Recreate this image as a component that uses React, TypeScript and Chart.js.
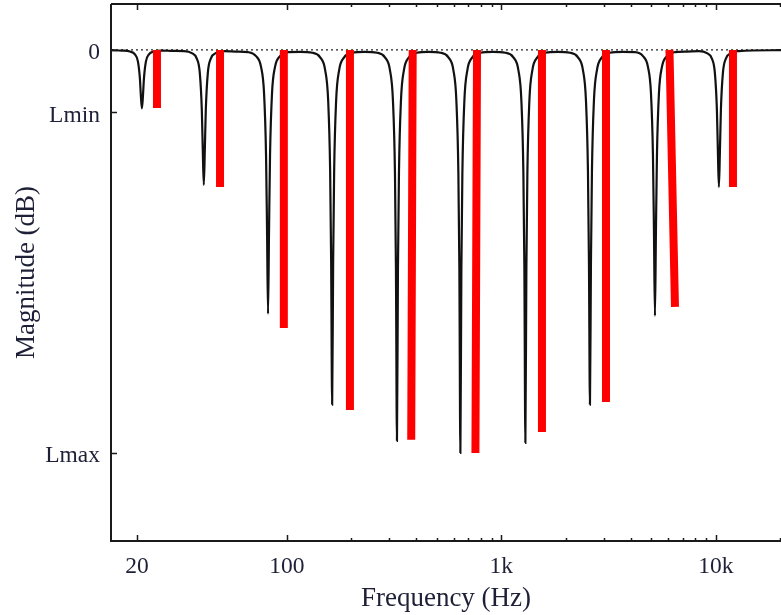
import React, { useEffect, useRef } from "react";
import { Chart, registerables } from "chart.js";

Chart.register(...registerables);

// Black magnitude response curve (frequency in Hz, magnitude in dB)
const curveHz = [
  15.14,
  17.03, 18.55, 19.57, 20.21, 20.65, 20.87, 21.1, 21.33, 21.56, 22.03, 22.75, 24.0, 26.15,
  29.41,
  33.09, 36.05, 38.03, 39.28, 40.13, 40.56, 41.0, 41.44, 41.89, 42.8, 44.2, 46.63, 50.81,
  57.88,
  65.93, 71.84, 75.79, 78.27, 79.97, 80.83, 81.7, 82.58, 83.47, 85.28, 88.07, 92.92, 101.24,
  115.26,
  131.2, 142.97, 150.84, 155.77, 159.14, 160.87, 162.6, 164.35, 166.13, 169.73, 175.28, 184.92, 201.49,
  230.2,
  263.1, 286.6, 302.4, 312.3, 319.1, 322.5, 326, 329.5, 333.1, 340.3, 351.4, 370.8, 404.0,
  458.2,
  519.7, 566.3, 597.4, 616.9, 630.3, 637.1, 644, 650.9, 658.0, 672.3, 694.2, 732.4, 798.0,
  912.9,
  1044.2, 1137.8, 1200.4, 1239.6, 1266.5, 1280.2, 1294, 1308.0, 1322.1, 1350.8, 1394.9, 1471.7, 1603.5,
  1830,
  2088.5, 2275.6, 2400.8, 2479.2, 2533.0, 2560.4, 2588, 2615.9, 2644.2, 2701.5, 2789.8, 2943.3, 3207.0,
  3668.5,
  4196.3, 4572.3, 4823.8, 4981.4, 5089.6, 5144.5, 5200, 5256.1, 5312.8, 5428.1, 5605.5, 5914.0, 6443.7,
  7329.1,
  8336.1, 9082.9, 9582.6, 9895.8, 10110.6, 10219.8, 10330, 10441.5, 10554.2, 10783.2, 11135.6, 11748.3, 12800.7,
  20120,
];
const curveDb = [
  -0.01,
  -0.03, -0.08, -0.22, -0.57, -1.43, -2.3, -2.9, -2.3, -1.43, -0.57, -0.22, -0.08, -0.03,
  -0.05,
  -0.06, -0.16, -0.43, -1.15, -2.97, -5.0, -6.7, -5.0, -2.97, -1.15, -0.43, -0.16, -0.06,
  -0.08,
  -0.11, -0.31, -0.84, -2.14, -5.21, -8.93, -13.1, -8.93, -5.21, -2.14, -0.84, -0.31, -0.11,
  -0.1,
  -0.14, -0.37, -1.0, -2.5, -6.01, -10.54, -17.6, -10.54, -6.01, -2.5, -1.0, -0.37, -0.14,
  -0.1,
  -0.14, -0.37, -1.0, -2.52, -6.1, -10.83, -19.4, -10.83, -6.1, -2.52, -1.0, -0.37, -0.14,
  -0.1,
  -0.14, -0.37, -1.0, -2.52, -6.1, -10.89, -20.0, -10.89, -6.1, -2.52, -1.0, -0.37, -0.14,
  -0.1,
  -0.14, -0.37, -1.0, -2.52, -6.1, -10.83, -19.5, -10.83, -6.1, -2.52, -1.0, -0.37, -0.14,
  -0.1,
  -0.14, -0.37, -1.0, -2.5, -6.01, -10.54, -17.6, -10.54, -6.01, -2.5, -1.0, -0.37, -0.14,
  -0.1,
  -0.11, -0.31, -0.84, -2.14, -5.21, -8.93, -13.2, -8.93, -5.21, -2.14, -0.84, -0.31, -0.11,
  -0.08,
  -0.06, -0.155, -0.43, -1.15, -2.97, -5.06, -6.8, -5.06, -2.97, -1.15, -0.43, -0.155, -0.06,
  -0.01,
];

// Red bars: frequency at the top (0 dB) and at the bottom, and the bar depth in dB
const barTopHz = [24.8, 48.8, 96.8, 196.8, 386, 770, 1546, 3074, 6076, 12015];
const barBottomHz = [24.8, 48.8, 96.8, 196.8, 380, 757, 1546, 3074, 6447, 12015];
const barDb = [-2.88, -6.8, -13.8, -17.87, -19.35, -20.0, -18.96, -17.47, -12.75, -6.8];

// Axes
const xRange = [15.14, 20120];
const yRange = [-24.37, 2.28];
const xTickValues = [20, 100, 1000, 10000];
const xTickLabels = ["20", "100", "1k", "10k"];
const xMinorTicks = [200, 300, 400, 500, 600, 700, 800, 900, 2000, 3000, 4000, 5000, 6000, 7000, 8000, 9000, 20000];
const yTickValues = [-20, -3.1, 0];
const yTickLabels = ["Lmax", "Lmin", "0"];
const xTitle = "Frequency (Hz)";
const yTitle = "Magnitude (dB)";

const TEXT = "#1d2036";
const FONT = "'Liberation Serif', 'DejaVu Serif', serif";

const framePlugin = {
  id: "framePlugin",
  afterDraw(chart: any) {
    const { ctx, chartArea: a, scales } = chart;
    const xs = scales.x;
    const ys = scales.y;
    ctx.save();
    ctx.strokeStyle = "#1a1a1a";
    ctx.lineWidth = 2;
    ctx.beginPath();
    ctx.moveTo(a.left, a.top);
    ctx.lineTo(a.right, a.top);
    ctx.moveTo(a.left, a.top);
    ctx.lineTo(a.left, a.bottom);
    ctx.lineTo(a.right, a.bottom);
    ctx.stroke();
    ctx.lineWidth = 1.5;
    ctx.beginPath();
    for (const v of xTickValues) {
      const px = Math.round(xs.getPixelForValue(v)) + 0.5;
      ctx.moveTo(px, a.bottom);
      ctx.lineTo(px, a.bottom - 6);
      ctx.moveTo(px, a.top);
      ctx.lineTo(px, a.top + 6);
    }
    for (const v of xMinorTicks) {
      const px = Math.round(xs.getPixelForValue(v)) + 0.5;
      ctx.moveTo(px, a.bottom);
      ctx.lineTo(px, a.bottom - 3);
      ctx.moveTo(px, a.top);
      ctx.lineTo(px, a.top + 3);
    }
    for (const v of yTickValues) {
      const py = Math.round(ys.getPixelForValue(v)) + 0.5;
      ctx.moveTo(a.left, py);
      ctx.lineTo(a.left + 6, py);
    }
    ctx.stroke();
    ctx.restore();
  },
};

export default function App() {
  const canvasRef = useRef<HTMLCanvasElement | null>(null);

  useEffect(() => {
    const canvas = canvasRef.current;
    if (!canvas) return;

    const curveData = curveHz.map((f, i) => ({ x: f, y: curveDb[i] }));
    const barData: any[] = [];
    barTopHz.forEach((f, i) => {
      barData.push({ x: f, y: 0 });
      barData.push({ x: barBottomHz[i], y: barDb[i] });
      barData.push({ x: barBottomHz[i], y: null });
    });
    const zeroLine = [
      { x: xRange[0], y: 0 },
      { x: xRange[1], y: 0 },
    ];

    const chart = new Chart(canvas, {
      type: "line",
      data: {
        datasets: [
          {
            data: barData,
            borderColor: "#ff0000",
            borderWidth: 8,
            borderCapStyle: "butt",
            pointRadius: 0,
            spanGaps: false,
            tension: 0,
          },
          {
            data: curveData,
            borderColor: "#111111",
            borderWidth: 2.2,
            pointRadius: 0,
            cubicInterpolationMode: "monotone",
          },
          {
            data: zeroLine,
            borderColor: "#222222",
            borderWidth: 1.3,
            borderDash: [2, 3],
            pointRadius: 0,
          },
        ] as any,
      },
      options: {
        responsive: false,
        animation: false,
        parsing: true,
        layout: { autoPadding: false, padding: { top: 4, left: 0, right: 0, bottom: 0 } },
        plugins: {
          legend: { display: false },
          tooltip: { enabled: false },
        },
        scales: {
          x: {
            type: "logarithmic",
            min: xRange[0],
            max: xRange[1],
            grid: { display: false, drawTicks: false },
            border: { display: false },
            afterBuildTicks: (s: any) => {
              s.ticks = xTickValues.map((v) => ({ value: v }));
            },
            afterFit: (s: any) => {
              s.height = 74;
              s.paddingLeft = 0;
              s.paddingRight = 0;
              s.paddingTop = 0;
              s.paddingBottom = 0;
            },
            ticks: {
              autoSkip: false,
              maxRotation: 0,
              padding: 12,
              color: TEXT,
              font: { family: FONT, size: 23.5 },
              callback: (_v: any, i: number) => xTickLabels[i],
            },
            title: {
              display: true,
              text: xTitle,
              color: TEXT,
              font: { family: FONT, size: 27 },
              padding: { top: 0, bottom: 0 },
            },
          },
          y: {
            type: "linear",
            min: yRange[0],
            max: yRange[1],
            grid: { display: false, drawTicks: false },
            border: { display: false },
            afterBuildTicks: (s: any) => {
              s.ticks = yTickValues.map((v) => ({ value: v }));
            },
            afterFit: (s: any) => {
              s.width = 111;
              s.paddingLeft = 0;
              s.paddingRight = 0;
              s.paddingTop = 0;
              s.paddingBottom = 0;
            },
            ticks: {
              autoSkip: false,
              padding: 11,
              labelOffset: 3,
              color: TEXT,
              font: { family: FONT, size: 23.5 },
              callback: (_v: any, i: number) => yTickLabels[i],
            },
            title: {
              display: true,
              text: yTitle,
              color: TEXT,
              font: { family: FONT, size: 27 },
              padding: { top: 11, bottom: 0 },
            },
          },
        },
      } as any,
      plugins: [framePlugin],
    });

    return () => {
      chart.destroy();
    };
  }, []);

  return (
    <div style={{ position: "absolute", left: 0, top: 0, width: 781, height: 615, background: "#fff" }}>
      <canvas ref={canvasRef} width={781} height={615} style={{ display: "block" }} />
    </div>
  );
}
